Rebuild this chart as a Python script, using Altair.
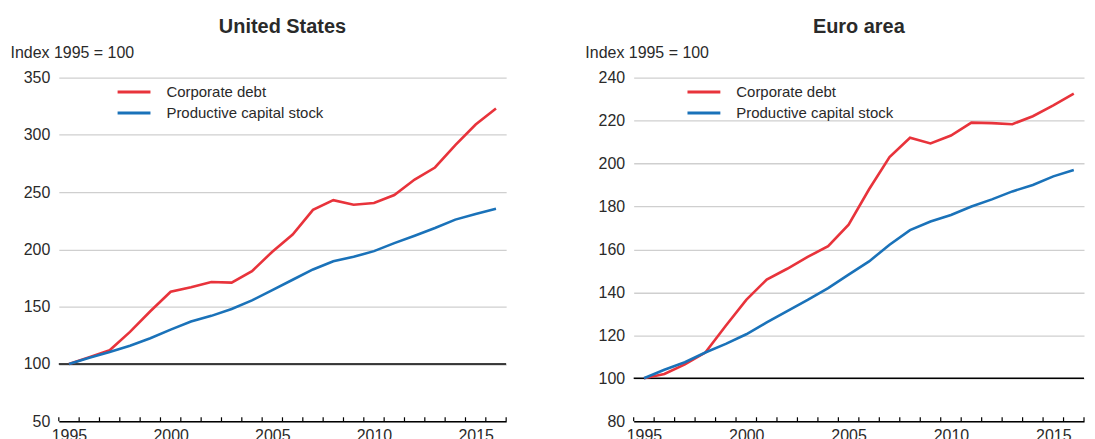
import altair as alt
import pandas as pd

years = list(range(1995, 2017))
series_names = ["Corporate debt", "Productive capital stock"]
series_colors = ["#e8333b", "#1a72b9"]

us_debt = [100, 106, 112, 128, 146, 163, 167, 171.5, 171, 181, 198, 213,
           234.5, 243, 239, 240.5, 247.5, 261, 271.5, 291, 309, 323]
us_capital = [100, 105.5, 110.5, 116, 122.5, 130, 137, 142, 148, 155.5, 164.5, 173.5,
              182.5, 189.7, 193.5, 198.5, 205.5, 212, 218.7, 226, 231, 235.5]
ea_debt = [100, 102, 106.5, 112, 124.5, 136.5, 146, 151, 156.5, 161.5, 171.5, 188,
           203, 212, 209.3, 213, 219, 218.8, 218.3, 222, 227, 232.5]
ea_capital = [100, 104, 107.5, 112, 116, 120.5, 126, 131.3, 136.5, 142, 148.3, 154.4,
              162.2, 169, 173, 176, 180, 183.3, 187, 190, 194, 197]

label_years = [1995, 2000, 2005, 2010, 2015]
tick_bounds = [y - 0.5 for y in years] + [years[-1] + 0.5]
us_y_ticks = [50, 100, 150, 200, 250, 300, 350]
ea_y_ticks = [80, 100, 120, 140, 160, 180, 200, 220, 240]
baseline_value = [100]
y_title = "Index 1995 = 100"

H = 345
FONT = "Liberation Sans"
TXT = "#2a2a2a"


def make_df(debt, cap):
    rows = []
    for y, v in zip(years, debt):
        rows.append({"year": y, "value": v, "series": series_names[0]})
    for y, v in zip(years, cap):
        rows.append({"year": y, "value": v, "series": series_names[1]})
    return pd.DataFrame(rows)


def panel(title, debt, cap, yticks, legend_x, width):
    df = make_df(debt, cap)
    xscale = alt.Scale(domain=[tick_bounds[0], tick_bounds[-1]], nice=False, zero=False)
    yscale = alt.Scale(domain=[yticks[0], yticks[-1]], nice=False, zero=False)
    xaxis = alt.Axis(values=label_years, format="d", grid=False, ticks=False,
                     domain=True, domainColor="#000000", domainWidth=1.5,
                     labelFontSize=16, labelPadding=6, labelColor=TXT,
                     labelFont=FONT, title=None, labelOverlap=False)
    yaxis = alt.Axis(values=yticks, grid=True, gridColor="#cfcfcf", gridWidth=1.3,
                     ticks=False, domain=False, labelFontSize=16,
                     labelPadding=9, labelColor=TXT, labelFont=FONT,
                     title=y_title, titleAngle=0, titleX=-49, titleY=-20,
                     titleAlign="left", titleBaseline="alphabetic",
                     titleFontWeight="normal", titleFontSize=16,
                     titleColor=TXT, titleFont=FONT)

    lines = alt.Chart(df).mark_line(strokeWidth=2.6).encode(
        x=alt.X("year:Q", scale=xscale, axis=xaxis),
        y=alt.Y("value:Q", scale=yscale, axis=yaxis),
        color=alt.Color("series:N",
                        scale=alt.Scale(domain=series_names, range=series_colors),
                        legend=alt.Legend(orient="none", legendX=legend_x, legendY=3,
                                          title=None, symbolType="M-1.65,0H1.65",
                                          symbolSize=400, symbolStrokeWidth=3,
                                          labelFontSize=15, labelFont=FONT,
                                          labelColor=TXT, labelOffset=21,
                                          rowPadding=1, padding=0)),
    )

    base_rule = alt.Chart(pd.DataFrame({"value": baseline_value})).mark_rule(
        color="#000000", strokeWidth=1.5).encode(
        y=alt.Y("value:Q", scale=yscale, axis=yaxis))

    tick_rules = alt.Chart(pd.DataFrame({"year": tick_bounds})).mark_rule(
        color="#000000", strokeWidth=1.2).encode(
        x=alt.X("year:Q", scale=xscale, axis=xaxis),
        y=alt.value(H - 4), y2=alt.value(H))

    return alt.layer(base_rule, lines, tick_rules).properties(
        width=width, height=H,
        title=alt.TitleParams(title, fontSize=20, fontWeight="bold", font=FONT,
                              color=TXT, anchor="middle", baseline="alphabetic",
                              offset=-8),
    )


left = panel("United States", us_debt, us_capital, us_y_ticks, 64, 449)
right = panel("Euro area", ea_debt, ea_capital, ea_y_ticks, 59, 452)

chart = alt.hconcat(left, right, spacing=78).resolve_scale(
    x="independent", y="independent", color="independent"
).resolve_legend(color="independent").properties(
    padding={"left": 2, "top": 8, "right": 2, "bottom": 0}
).configure(font=FONT).configure_view(stroke=None)

chart.save("out.html", embed_options={"renderer": "svg", "actions": False})
